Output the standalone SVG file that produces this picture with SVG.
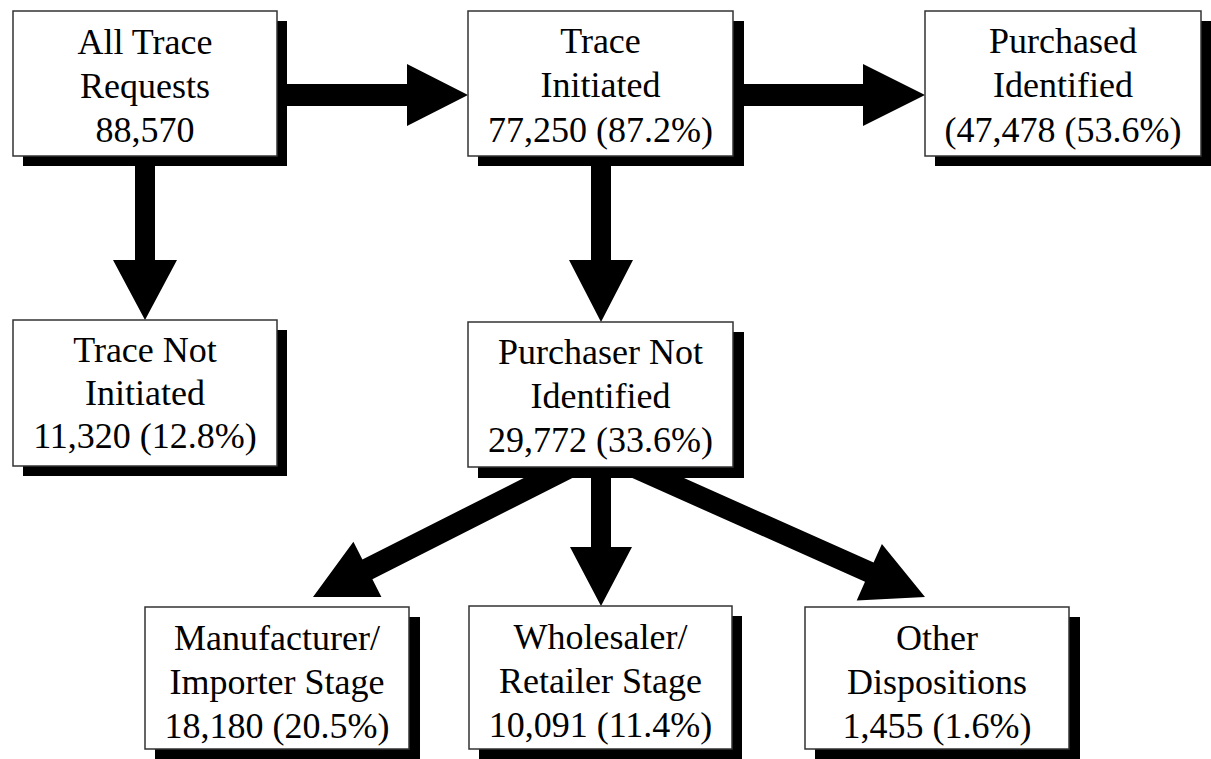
<svg xmlns="http://www.w3.org/2000/svg" width="1211" height="759" viewBox="0 0 1211 759">
<style>
.sh{fill:#000}
.bx{fill:#fff;stroke:#333;stroke-width:1.5}
.t{font-size:36px;fill:#000;text-anchor:middle}
.ar{fill:#000}
</style>
<rect width="1211" height="759" fill="#fff"/>
<g id="connectors">
<polygon class="ar" points="270,84 407,84 407,64 468,95 407,126 407,106 270,106"/>
<polygon class="ar" points="725,84 863,84 863,64 925,95 863,126 863,106 725,106"/>
<polygon class="ar" points="135,150 155,150 155,260 177,260 145,320 113,260 135,260"/>
<polygon class="ar" points="591,150 611,150 611,260 633,260 601,322 569,260 591,260"/>
<polygon class="ar" points="591,460 611,460 611,547 632,547 601,606 570,547 591,547"/>
<polygon class="ar" points="588.7,469.7 372.4,579.2 381.4,597.1 313,597 353.4,541.7 362.4,559.6 578.7,450.1"/>
<polygon class="ar" points="625.8,452.1 873.6,562.6 881.9,543.9 925,597 856.7,600.5 865,581.8 617.2,471.3"/>
</g>
<g font-family="'Liberation Serif', 'Times New Roman', 'DejaVu Serif', serif">
<g id="n1">
<rect class="sh" x="23" y="21" width="264" height="145"/>
<rect class="bx" x="13" y="11" width="264" height="145"/>
<text class="t" x="145" y="54">All Trace</text>
<text class="t" x="145" y="98">Requests</text>
<text class="t" x="145" y="142">88,570</text>
</g>
<g id="n2">
<rect class="sh" x="478" y="21" width="266" height="145"/>
<rect class="bx" x="468" y="11" width="265" height="145"/>
<text class="t" x="600.5" y="53">Trace</text>
<text class="t" x="600.5" y="97">Initiated</text>
<text class="t" x="600.5" y="142">77,250 (87.2%)</text>
</g>
<g id="n3">
<rect class="sh" x="935" y="21" width="276" height="145"/>
<rect class="bx" x="925" y="11" width="276" height="145"/>
<text class="t" x="1063" y="53">Purchased</text>
<text class="t" x="1063" y="97">Identified</text>
<text class="t" x="1063" y="142">(47,478 (53.6%)</text>
</g>
<g id="n4">
<rect class="sh" x="23" y="330" width="264" height="146"/>
<rect class="bx" x="13" y="320" width="264" height="146"/>
<text class="t" x="145" y="362">Trace Not</text>
<text class="t" x="145" y="405">Initiated</text>
<text class="t" x="145" y="448">11,320 (12.8%)</text>
</g>
<g id="n5">
<rect class="sh" x="478" y="332" width="266" height="146"/>
<rect class="bx" x="468" y="322" width="265" height="145"/>
<text class="t" x="600.5" y="364">Purchaser Not</text>
<text class="t" x="600.5" y="408">Identified</text>
<text class="t" x="600.5" y="452">29,772 (33.6%)</text>
</g>
<g id="n6">
<rect class="sh" x="155" y="617" width="265" height="142"/>
<rect class="bx" x="145" y="607" width="264" height="142"/>
<text class="t" x="277" y="650">Manufacturer/</text>
<text class="t" x="277" y="694">Importer Stage</text>
<text class="t" x="277" y="738">18,180 (20.5%)</text>
</g>
<g id="n7">
<rect class="sh" x="479" y="616" width="263" height="143"/>
<rect class="bx" x="469" y="606" width="263" height="143"/>
<text class="t" x="600.5" y="649">Wholesaler/</text>
<text class="t" x="600.5" y="693">Retailer Stage</text>
<text class="t" x="600.5" y="737">10,091 (11.4%)</text>
</g>
<g id="n8">
<rect class="sh" x="815" y="617" width="265" height="142"/>
<rect class="bx" x="805" y="607" width="264" height="142"/>
<text class="t" x="937" y="650">Other</text>
<text class="t" x="937" y="694">Dispositions</text>
<text class="t" x="937" y="738">1,455 (1.6%)</text>
</g>
</g>
</svg>
